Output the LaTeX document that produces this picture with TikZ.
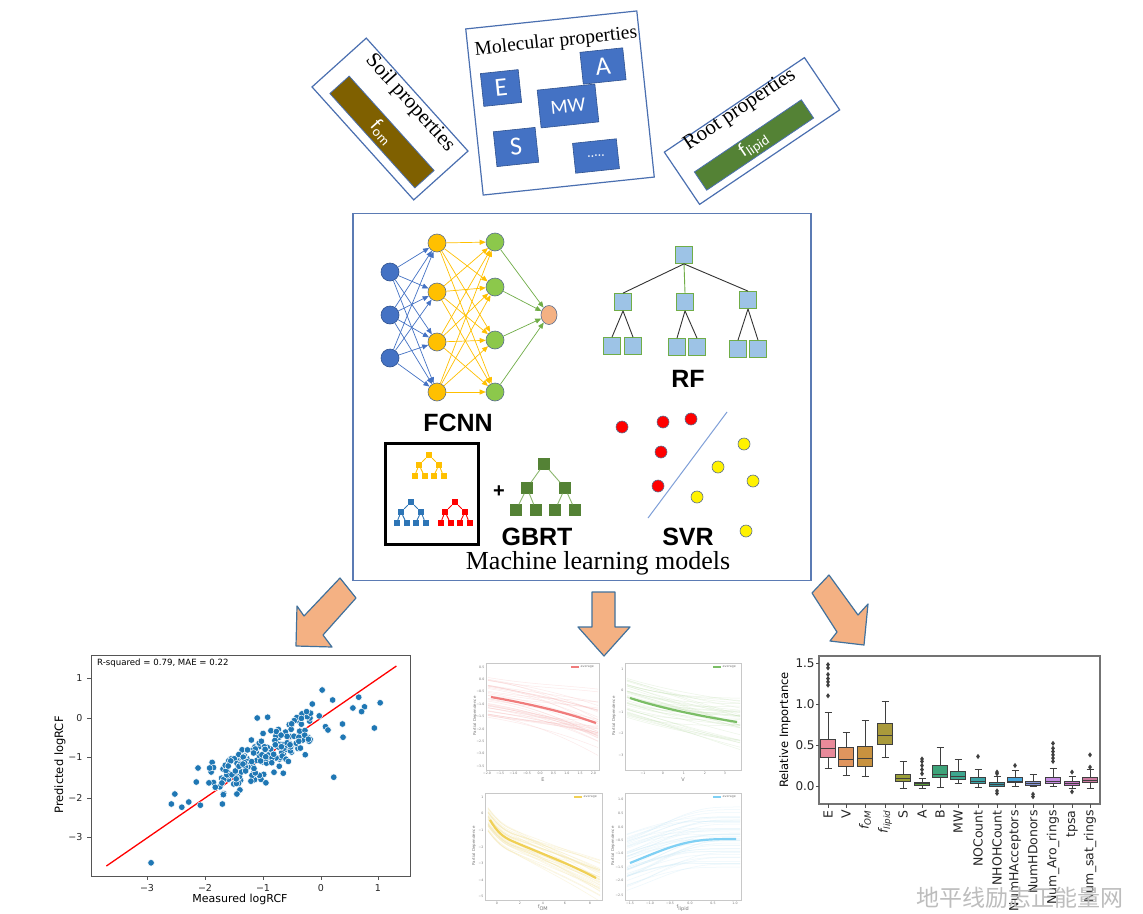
\documentclass[tikz,border=0pt]{standalone}
\usepackage{fontspec}
\setmainfont{Liberation Serif}
\newfontfamily\djv{DejaVu Sans}
\newfontfamily\arl{Liberation Sans}
\newfontfamily\calb{Carlito}
\newfontfamily\cjkf{Noto Sans CJK SC}
\usetikzlibrary{arrows.meta,shapes.geometric}
\newcommand\fsz[1]{\fontsize{#1}{#1}\selectfont}
\definecolor{boxblue}{HTML}{4A6FB0}
\definecolor{pptblue}{HTML}{4472C4}
\definecolor{pptdark}{HTML}{2F528F}
\definecolor{soilbrown}{HTML}{7F6000}
\definecolor{rootgreen}{HTML}{548235}
\definecolor{mlborder}{HTML}{5B7BB4}
\definecolor{nnblue}{HTML}{4472C4}
\definecolor{nnyellow}{HTML}{FFC000}
\definecolor{nngreen}{HTML}{8CC84B}
\definecolor{nnout}{HTML}{F4B183}
\definecolor{nnedge}{HTML}{5A6E8E}
\definecolor{arrowline}{HTML}{70AD47}
\definecolor{rfblue}{HTML}{9DC3E6}
\definecolor{rfgreen}{HTML}{70AD47}
\definecolor{gbgreen}{HTML}{548235}
\definecolor{gbline}{HTML}{8DB870}
\definecolor{tyellow}{HTML}{FFC000}
\definecolor{tblue}{HTML}{2E75B6}
\definecolor{tred}{HTML}{FF0000}
\definecolor{svline}{HTML}{7F9FD8}
\definecolor{orangearrow}{HTML}{F4B183}
\definecolor{arrowedge}{HTML}{41719C}
\definecolor{scblue}{HTML}{1F77B4}
\definecolor{axgray}{HTML}{555555}
\definecolor{pdframe}{HTML}{C8C8C8}
\definecolor{pdtext}{HTML}{777777}
\definecolor{pdred}{HTML}{F07C7C}
\definecolor{pdredbg}{HTML}{F7B3B3}
\definecolor{pdgreen}{HTML}{7BBE66}
\definecolor{pdgreenbg}{HTML}{BCDDAA}
\definecolor{pdyellow}{HTML}{F0D055}
\definecolor{pdyellowbg}{HTML}{F4E39E}
\definecolor{pdcyan}{HTML}{7FD0F4}
\definecolor{pdcyanbg}{HTML}{BFE5F7}
\definecolor{bpdark}{HTML}{3F3F3F}
\definecolor{cE}{HTML}{E88A9A}
\definecolor{cV}{HTML}{E0955E}
\definecolor{cOM}{HTML}{C8923F}
\definecolor{cLip}{HTML}{A99A3B}
\definecolor{cS}{HTML}{9A9E38}
\definecolor{cA}{HTML}{5C9E3A}
\definecolor{cB}{HTML}{3DA379}
\definecolor{cMW}{HTML}{3DA68F}
\definecolor{cNO}{HTML}{3BA3A6}
\definecolor{cNHOH}{HTML}{3A95A3}
\definecolor{cHA}{HTML}{45A5DC}
\definecolor{cHD}{HTML}{8796D8}
\definecolor{cAro}{HTML}{C68DE3}
\definecolor{cTpsa}{HTML}{C97AC8}
\definecolor{cSat}{HTML}{CB7AA0}
\definecolor{wmgray}{HTML}{BDBDBD}

% box plot helpers (y = 786 - 82*value)
\newcommand\bxp[7]{%
 \draw[bpl] (#1,{786-82*(#2)}) -- (#1,{786-82*(#3)});
 \draw[bpl] (#1,{786-82*(#5)}) -- (#1,{786-82*(#6)});
 \draw[bpl] ({#1-3.5},{786-82*(#2)}) -- ({#1+3.5},{786-82*(#2)});
 \draw[bpl] ({#1-3.5},{786-82*(#6)}) -- ({#1+3.5},{786-82*(#6)});
 \filldraw[bpl, fill=#7] ({#1-7.5},{786-82*(#3)}) rectangle ({#1+7.5},{786-82*(#5)});
 \draw[bpl] ({#1-7.5},{786-82*(#4)}) -- ({#1+7.5},{786-82*(#4)});
}
\newcommand\outl[2]{\fill[bpdark] (#1,{786-82*(#2)-2.6}) -- ({#1+1.9},{786-82*(#2)}) -- (#1,{786-82*(#2)+2.6}) -- ({#1-1.9},{786-82*(#2)}) -- cycle;}

% small tree: prefix, color, x, y
\newcommand\mytree[4]{%
 \node[tsq,fill=#2] (#1r) at (#3,#4) {};
 \node[tsq,fill=#2] (#1a) at ({#3-10},{#4+10}) {};
 \node[tsq,fill=#2] (#1b) at ({#3+10},{#4+10}) {};
 \node[tsq,fill=#2] (#1c) at ({#3-14.5},{#4+21}) {};
 \node[tsq,fill=#2] (#1d) at ({#3-4.5},{#4+21}) {};
 \node[tsq,fill=#2] (#1e) at ({#3+4.5},{#4+21}) {};
 \node[tsq,fill=#2] (#1f) at ({#3+14.5},{#4+21}) {};
 \draw[#2, line width=0.9pt] (#1r) -- (#1a) (#1r) -- (#1b) (#1a) -- (#1c) (#1a) -- (#1d) (#1b) -- (#1e) (#1b) -- (#1f);
}

\begin{document}
\begin{tikzpicture}[x=1pt,y=-1pt,
  topbox/.style={draw=boxblue, line width=1.2pt, fill=white, inner sep=0pt},
  barbox/.style={draw=boxblue, line width=0.8pt, text=white, inner sep=0pt, font=\calb\fsz{20}},
  mbox/.style={fill=pptblue, draw=pptdark, line width=0.6pt, text=white, inner sep=0pt, rotate=6, font=\calb\fsz{26}},
  toptext/.style={font=\fsz{21}, inner sep=0pt},
  neuron/.style={circle, minimum size=18pt, inner sep=0pt, draw=nnedge, line width=0.6pt},
  nnarrow/.style={line width=0.7pt, -{Triangle[length=6pt,width=5pt]}},
  rfsq/.style={fill=rfblue, draw=rfgreen, line width=0.8pt, minimum size=17pt, inner sep=0pt},
  gbsq/.style={fill=gbgreen, draw=gbgreen, minimum size=11pt, inner sep=0pt},
  tsq/.style={minimum size=6pt, inner sep=0pt},
  mllabel/.style={font=\arl\bfseries\fsz{25}, inner sep=0pt},
  rdot/.style={circle, fill=red, draw=nnedge, line width=0.6pt, minimum size=12pt, inner sep=0pt},
  ydot/.style={circle, fill=yellow, draw=nnedge, line width=0.6pt, minimum size=12pt, inner sep=0pt},
  bigarrow/.style={fill=orangearrow, draw=arrowedge, line width=1.2pt, line join=round},
  sctick/.style={font=\djv\fsz{9.5}, text=black!85},
  pdtick/.style={font=\djv\fsz{3.2}, text=pdtext, inner sep=0.5pt},
  bpl/.style={draw=bpdark, line width=0.9pt},
  bptick/.style={font=\djv\fsz{12}, text=black!85, inner sep=1.2pt}
]
\useasboundingbox (0,0) rectangle (1143,913);
\fill[white] (0,0) rectangle (1143,913);

% ================= TOP: property boxes =================
\node[topbox, rotate=-48, minimum width=152pt, minimum height=73pt] (soil) at (390,119) {};
\node[barbox, fill=soilbrown, rotate=-48, minimum width=127pt, minimum height=26pt] (soilbar) at (382,132) {f\textsubscript{om}};
\node[toptext, rotate=-48] (soiltxt) at (410,103) {Soil properties};

\node[topbox, rotate=6, minimum width=172pt, minimum height=167pt] (mol) at (560,103) {};
\node[toptext, rotate=6, font=\fsz{19.5}] (moltxt) at (556,42) {Molecular properties};
\node[mbox, minimum width=38pt, minimum height=33pt] (mE) at (501,88) {E};
\node[mbox, minimum width=43pt, minimum height=32pt] (mA) at (603,66) {A};
\node[mbox, minimum width=58pt, minimum height=38pt, font=\calb\fsz{20}] (mMW) at (568,106) {MW};
\node[mbox, minimum width=42pt, minimum height=35pt] (mS) at (516,147) {S};
\node[mbox, minimum width=44pt, minimum height=30pt, font=\calb\fsz{14}] (mDots) at (596,156) {.....};

\node[topbox, rotate=34, minimum width=169pt, minimum height=63pt] (rootp) at (752,131) {};
\node[barbox, fill=rootgreen, rotate=34, minimum width=129pt, minimum height=22pt] (rootbar) at (754,145) {f\textsubscript{lipid}};
\node[toptext, rotate=34] (roottxt) at (740,110) {Root properties};

% ================= ML box =================
\node[draw=mlborder, line width=1.2pt, minimum width=458pt, minimum height=367pt, inner sep=0pt] (ml) at (582,397) {};

% FCNN
\foreach \n/\y in {1/272,2/315,3/358} {\node[neuron, fill=nnblue, draw=pptdark] (i\n) at (390,\y) {};}
\foreach \n/\y in {1/243,2/292,3/342,4/392} {\node[neuron, fill=nnyellow] (h\n) at (437,\y) {};}
\foreach \n/\y in {1/242,2/287,3/340,4/392} {\node[neuron, fill=nngreen] (g\n) at (495,\y) {};}
\node[ellipse, minimum width=16pt, minimum height=19pt, inner sep=0pt, fill=nnout, draw=nnedge, line width=0.6pt] (o) at (549,315) {};
\foreach \a in {1,2,3} {\foreach \b in {1,...,4} {\draw[nnarrow, nnblue] (i\a) -- (h\b);}}
\foreach \a in {1,...,4} {\foreach \b in {1,...,4} {\draw[nnarrow, nnyellow] (h\a) -- (g\b);}}
\foreach \a in {1,...,4} {\draw[nnarrow, arrowline] (g\a) -- (o);}
\node[mllabel] (fcnn) at (458,423) {FCNN};

% RF
\node[rfsq] (rf0) at (684,255) {};
\node[rfsq] (rf1) at (623,302) {};
\node[rfsq] (rf2) at (685,302) {};
\node[rfsq] (rf3) at (748,300) {};
\node[rfsq] (rf11) at (612,346) {};
\node[rfsq] (rf12) at (633,346) {};
\node[rfsq] (rf21) at (677,347) {};
\node[rfsq] (rf22) at (697,347) {};
\node[rfsq] (rf31) at (738,349) {};
\node[rfsq] (rf32) at (758,349) {};
\draw[line width=0.9pt, black!80] (rf0.south) -- (rf1.north);
\draw[line width=0.9pt, rfgreen] (rf0.south) -- (rf2.north);
\draw[line width=0.9pt, black!80] (rf0.south) -- (rf3.north);
\draw[line width=0.9pt, black!80] (rf1.south) -- (rf11.north) (rf1.south) -- (rf12.north)
  (rf2.south) -- (rf21.north) (rf2.south) -- (rf22.north)
  (rf3.south) -- (rf31.north) (rf3.south) -- (rf32.north);
\node[mllabel] (rf) at (688,379) {RF};

% GBRT
\node[draw=black, line width=3pt, minimum width=93pt, minimum height=101pt, inner sep=0pt] (gbbox) at (431.5,493.5) {};
\mytree{ty}{tyellow}{429}{455}
\mytree{tb}{tblue}{411}{502}
\mytree{tr}{tred}{455}{502}
\node[font=\arl\bfseries\fsz{20}, inner sep=0pt] (plus) at (499,492) {+};
\node[gbsq] (gb0) at (544,464) {};
\node[gbsq] (gb1) at (527,488) {};
\node[gbsq] (gb2) at (565,488) {};
\node[gbsq] (gb11) at (516,510) {};
\node[gbsq] (gb12) at (536,510) {};
\node[gbsq] (gb21) at (555,510) {};
\node[gbsq] (gb22) at (575,510) {};
\draw[gbline, line width=0.9pt] (gb0) -- (gb1) (gb0) -- (gb2) (gb1) -- (gb11) (gb1) -- (gb12) (gb2) -- (gb21) (gb2) -- (gb22);
\node[mllabel] (gbrt) at (537,537) {GBRT};

% SVR
\node[rdot] (r1) at (622,427) {};
\node[rdot] (r2) at (663,422) {};
\node[rdot] (r3) at (691,419) {};
\node[rdot] (r4) at (661,452) {};
\node[rdot] (r5) at (658,486) {};
\node[ydot] (y1) at (744,444) {};
\node[ydot] (y2) at (718,467) {};
\node[ydot] (y3) at (753,481) {};
\node[ydot] (y4) at (697,497) {};
\node[ydot] (y5) at (746,531) {};
\coordinate (sv1) at (727,412);
\coordinate (sv2) at (648,518);
\draw[svline, line width=1pt] (sv1) -- (sv2);
\node[mllabel] (svr) at (688,537) {SVR};

\node[font=\fsz{26}, inner sep=0pt] (mltitle) at (598,563) {Machine learning models};

% ================= Big arrows =================
\draw[bigarrow] (340,578) -- (356,598) -- (323,635) -- (332,647) -- (296,646) -- (297,606) -- (304,616) -- cycle;
\draw[bigarrow] (592,592) -- (615,592) -- (615,627) -- (630,627) -- (604,656) -- (578,627) -- (592,627) -- cycle;
\draw[bigarrow] (812,593) -- (829,575) -- (858,615) -- (868,604) -- (864,645) -- (830,641) -- (837,632) -- cycle;

% ================= Scatter plot =================
\begin{scope}
\clip (91,655) rectangle (410,876);
\draw[red, line width=1.3pt] (106.4,866) -- (396.4,666);
\pgfmathsetseed{12}
\foreach \k in {1,...,190}{
  \pgfmathsetmacro\xx{-0.95+0.75*rand+0.35*rand}
  \pgfmathsetmacro\yy{0.83*\xx-0.12+0.33*(rand+rand)}
  \filldraw[fill=scblue, draw=white, line width=0.5pt] ({321+58*\xx},{718-40*\yy}) circle (3.3);
}
\foreach \xx/\yy in {-2.93/-3.62, 0.22/-1.48, 0.02/0.7, -1.1/0.0, -0.92/0.02, 1.02/0.38, 0.92/-0.25, 0.65/0.52, -2.58/-2.15, -2.52/-1.9, -2.4/-2.23, -2.28/-2.1, -2.15/-1.6, -2.12/-1.25, -1.92/-1.25, -0.15/0.35, 0.2/0.45, 0.55/0.25, 0.75/0.28, 0.38/-0.48, 0.37/-0.15, -0.95/-1.62, -1.7/-2.15, -2.08/-2.18, 0.7/0.16, 0.12/-0.3, -1.2/-0.55, -1.45/-1.9, -1.6/-1.2, -0.65/-1.38}{
  \filldraw[fill=scblue, draw=white, line width=0.5pt] ({321+58*\xx},{718-40*\yy}) circle (3.3);
}
\end{scope}
\draw[axgray, line width=1pt] (91,655) rectangle (410,876);
\foreach \v/\px in {−3/147,−2/205,−1/263,0/321,1/378}{
  \draw[axgray, line width=0.8pt] (\px,876) -- (\px,880);
  \node[sctick, anchor=north] at (\px,881) {\v};
}
\foreach \v/\py in {1/678,0/718,−1/757,−2/798,−3/837}{
  \draw[axgray, line width=0.8pt] (91,\py) -- (87,\py);
  \node[sctick, anchor=east] at (86,\py) {\v};
}
\node[font=\djv\fsz{8.6}, anchor=west, inner sep=0pt] (r2txt) at (97,663) {R-squared = 0.79, MAE = 0.22};
\node[font=\djv\fsz{11}, inner sep=0pt] (sxl) at (240,899) {Measured logRCF};
\node[font=\djv\fsz{11.5}, rotate=90, inner sep=0pt] (syl) at (60,765) {Predicted logRCF};

% ================= Partial dependence plots =================
\pgfmathsetseed{5}
% TL
\begin{scope}
\clip (486,663) rectangle (599,770);
\foreach \k in {1,...,40}{
  \pgfmathsetmacro\a{rand*22}
  \pgfmathsetmacro\b{rand*16}
  \draw[pdredbg, opacity=0.28, line width=0.5pt] (488,{697+\a}) .. controls (530,{704+\a}) and (565,{712+\a+0.5*\b}) .. (598,{723+\a+\b});
}
\draw[pdred, line width=2.2pt] (491,697) .. controls (530,704) and (565,712) .. (596,723);
\end{scope}
\draw[pdframe, line width=0.8pt] (486,663) rectangle (599,770);
\draw[pdred, line width=1.2pt] (571,667) -- (579,667);
\node[pdtick, anchor=west] at (580,667) {average};
\foreach \v [count=\k from 0] in {0.5,0.0,−0.5,−1.0,−1.5,−2.0,−2.5,−3.0,−3.5}
  {\node[pdtick, anchor=east] at (485,{667+12.4*\k}) {\v};}
\foreach \v [count=\k from 0] in {−2.0,−1.5,−1.0,−0.5,0.0,0.5,1.0,1.5,2.0}
  {\node[pdtick, anchor=north] at ({487+13.3*\k},771) {\v};}
\node[pdtick, rotate=90, font=\djv\fsz{4}] at (475,716) {Partial Dependence};
\node[pdtick, font=\djv\fsz{5}] (pdxE) at (543,780) {E};

% TR
\begin{scope}
\clip (625,663) rectangle (741,770);
\foreach \k in {1,...,40}{
  \pgfmathsetmacro\a{rand*20}
  \pgfmathsetmacro\b{rand*16}
  \draw[pdgreenbg, opacity=0.28, line width=0.5pt] (627,{698+\a}) .. controls (660,{708+\a}) and (700,{716+\a+0.5*\b}) .. (740,{722+\a+\b});
}
\draw[pdgreen, line width=2.2pt] (630,698) .. controls (660,708) and (700,716) .. (737,722);
\end{scope}
\draw[pdframe, line width=0.8pt] (625,663) rectangle (741,770);
\draw[pdgreen, line width=1.2pt] (713,667) -- (721,667);
\node[pdtick, anchor=west] at (722,667) {average};
\foreach \v/\py in {1/669,0/690,−1/712,−2/733,−3/755}
  {\node[pdtick, anchor=east] at (624,\py) {\v};}
\foreach \v/\px in {−1/643,0/663,1/684,2/705,3/725}
  {\node[pdtick, anchor=north] at (\px,771) {\v};}
\node[pdtick, rotate=90, font=\djv\fsz{4}] at (614,716) {Partial Dependence};
\node[pdtick, font=\djv\fsz{5}] (pdxV) at (683,780) {V};

% BL
\begin{scope}
\clip (485,793) rectangle (602,900);
\foreach \k in {1,...,35}{
  \pgfmathsetmacro\a{rand*14}
  \pgfmathsetmacro\b{rand*14}
  \draw[pdyellowbg, opacity=0.32, line width=0.5pt] (488,{820+\a}) .. controls (497,{832+\a}) and (503,{837+\a}) .. (512,{841+\a}) .. controls (540,{853+\a+0.3*\b}) and (570,{864+\a+0.6*\b}) .. (600,{878+\a+\b});
}
\draw[pdyellow, line width=2.2pt] (490,820) .. controls (497,832) and (503,837) .. (512,841) .. controls (540,853) and (570,864) .. (596,878);
\end{scope}
\draw[pdframe, line width=0.8pt] (485,793) rectangle (602,900);
\draw[pdyellow, line width=1.2pt] (574,797) -- (582,797);
\node[pdtick, anchor=west] at (583,797) {average};
\foreach \v/\py in {1/797,0/813,−1/830,−2/847,−3/863,−4/880,−5/896}
  {\node[pdtick, anchor=east] at (484,\py) {\v};}
\foreach \v/\px in {0/497,2/520,4/543,6/565,8/590}
  {\node[pdtick, anchor=north] at (\px,901) {\v};}
\node[pdtick, rotate=90, font=\djv\fsz{4}] at (474,846) {Partial Dependence};
\node[pdtick, font=\djv\fsz{5}] (pdxOM) at (543,908) {f\textsubscript{OM}};

% BR
\begin{scope}
\clip (625,793) rectangle (741,900);
\foreach \k in {1,...,45}{
  \pgfmathsetmacro\a{rand*30}
  \pgfmathsetmacro\b{rand*12}
  \draw[pdcyanbg, opacity=0.28, line width=0.5pt] (627,{863+\a}) .. controls (650,{855+\a}) and (670,{846+\a+0.5*\b}) .. (690,{842+\a+0.7*\b}) .. controls (705,{839+\a+\b}) and (720,{839+\a+\b}) .. (740,{839+\a+\b});
}
\draw[pdcyan, line width=2.2pt] (630,863) .. controls (650,855) and (670,846) .. (690,842) .. controls (705,839) and (720,839) .. (736,839);
\end{scope}
\draw[pdframe, line width=0.8pt] (625,793) rectangle (741,900);
\draw[pdcyan, line width=1.2pt] (713,797) -- (721,797);
\node[pdtick, anchor=west] at (722,797) {average};
\foreach \v/\py in {1.0/799,0.5/813,0.0/827,−0.5/840,−1.0/853,−1.5/867,−2.0/880,−2.5/895}
  {\node[pdtick, anchor=east] at (624,\py) {\v};}
\foreach \v/\px in {−1.5/630,−1.0/650,−0.5/670,0.0/690,0.5/713,1.0/735}
  {\node[pdtick, anchor=north] at (\px,901) {\v};}
\node[pdtick, rotate=90, font=\djv\fsz{4}] at (613,846) {Partial Dependence};
\node[pdtick, font=\djv\fsz{5}] (pdxLip) at (683,908) {f\textsubscript{lipid}};

% ================= Box plot =================
\draw[black!55, line width=1.1pt] (819,656) rectangle (1100,804);
\foreach \v/\py in {0.0/786,0.5/745,1.0/704,1.5/663}{
  \draw[black!70, line width=0.8pt] (819,\py) -- (816,\py);
  \node[bptick, anchor=east] at (816,\py) {\v};
}
\node[font=\djv\fsz{11.5}, rotate=90, inner sep=0pt] (bpyl) at (785,730) {Relative Importance};
\bxp{828}{0.22}{0.35}{0.46}{0.57}{0.9}{cE}
\bxp{846}{0.13}{0.24}{0.33}{0.47}{0.65}{cV}
\bxp{865}{0.12}{0.24}{0.34}{0.48}{0.8}{cOM}
\bxp{885}{0.35}{0.51}{0.62}{0.76}{1.03}{cLip}
\bxp{903}{-0.03}{0.05}{0.09}{0.14}{0.3}{cS}
\bxp{922}{-0.03}{0.01}{0.03}{0.04}{0.09}{cA}
\bxp{940}{-0.02}{0.1}{0.14}{0.25}{0.47}{cB}
\bxp{958}{0.03}{0.08}{0.12}{0.18}{0.32}{cMW}
\bxp{978}{-0.02}{0.03}{0.06}{0.11}{0.2}{cNO}
\bxp{997}{-0.01}{0.0}{0.02}{0.04}{0.12}{cNHOH}
\bxp{1015}{0.0}{0.04}{0.06}{0.1}{0.19}{cHA}
\bxp{1033}{-0.01}{0.01}{0.03}{0.06}{0.14}{cHD}
\bxp{1053}{-0.01}{0.03}{0.05}{0.11}{0.21}{cAro}
\bxp{1072}{-0.03}{0.01}{0.03}{0.06}{0.12}{cTpsa}
\bxp{1090}{-0.03}{0.04}{0.07}{0.11}{0.2}{cSat}
\foreach \v in {1.1,1.23,1.27,1.31,1.36,1.44,1.48} {\outl{828}{\v}}
\foreach \v in {0.15,0.2,0.25,0.3,0.33} {\outl{922}{\v}}
\foreach \v in {0.36} {\outl{978}{\v}}
\foreach \v in {0.15,0.17,-0.06,-0.09} {\outl{997}{\v}}
\foreach \v in {0.25} {\outl{1015}{\v}}
\foreach \v in {-0.1,-0.13} {\outl{1033}{\v}}
\foreach \v in {0.3,0.34,0.38,0.42,0.46,0.52} {\outl{1053}{\v}}
\foreach \v in {0.17,-0.07} {\outl{1072}{\v}}
\foreach \v in {0.23,0.38} {\outl{1090}{\v}}
\foreach \px/\lab in {828/E,846/V,865/{{\itshape f}\textsubscript{\itshape OM}},885/{{\itshape f}\textsubscript{\itshape lipid}},903/S,922/A,940/B,958/MW,978/NOCount,997/NHOHCount,1015/NumHAcceptors,1033/NumHDonors,1053/Num\_Aro\_rings,1072/tpsa,1090/Num\_sat\_rings}{
  \draw[black!70, line width=0.8pt] (\px,804) -- (\px,808);
  \node[bptick, rotate=90, anchor=east, font=\djv\fsz{12.5}] at (\px,809) {\lab};
}

% ================= Watermark =================
\node[font=\cjkf\fsz{23}, text=wmgray, inner sep=0pt] (wm) at (1020,898) {地平线励志正能量网};
\end{tikzpicture}
\end{document}
